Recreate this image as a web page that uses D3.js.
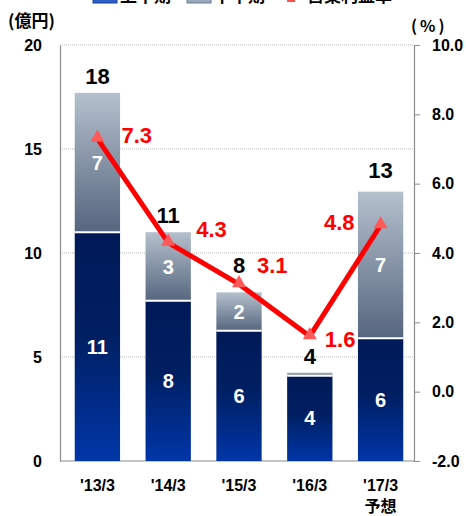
<!DOCTYPE html>
<html>
<head>
<meta charset="utf-8">
<script src="https://cdn.jsdelivr.net/npm/d3@7"></script>
<style>
  body { margin: 0; background: #fff; }
  svg { display: block; font-family: "Liberation Sans", Arial, sans-serif; }
  .jp { font-family: "Noto Sans CJK JP", sans-serif; }
</style>
</head>
<body>
<div id="chart"></div>
<script>
// fiscal years and values (億円, %)
var years = ["'13/3", "'14/3", "'15/3", "'16/3", "'17/3"];
var firstHalf = [11.0, 7.7, 6.26, 4.1, 5.9];
var secondHalf = [6.7, 3.3, 1.85, 0.15, 7.05];
var margin = [7.3, 4.3, 3.1, 1.6, 4.8];
var leftTicks = [0, 5, 10, 15, 20];
var rightTicks = [-2, 0, 2, 4, 6, 8, 10];
var legendNames = ["上半期", "下半期", "営業利益率"];

var width = 466, height = 516;
var plot = {left: 60, right: 414, top: 45, bottom: 461};

// hand-placed label nudges (dx, dy) for the margin line and the totals
var marginLabelPos = [[24, 4, "start"], [28, -6, "start"], [18, -11, "start"], [15, 11, "start"], [-26, 5, "end"]];
var totalLift = [9, 9, 19, 9, 14];

var svg = d3.select("#chart").append("svg")
    .attr("width", width)
    .attr("height", height);

var defs = svg.append("defs");
var gLow = defs.append("linearGradient").attr("id", "gradLow")
    .attr("x1", 0).attr("y1", 0).attr("x2", 0).attr("y2", 1);
gLow.append("stop").attr("offset", "0%").attr("stop-color", "#001a58");
gLow.append("stop").attr("offset", "45%").attr("stop-color", "#001f62");
gLow.append("stop").attr("offset", "100%").attr("stop-color", "#0036a8");
var gHigh = defs.append("linearGradient").attr("id", "gradHigh")
    .attr("x1", 0).attr("y1", 0).attr("x2", 0).attr("y2", 1);
gHigh.append("stop").attr("offset", "0%").attr("stop-color", "#b5c0cd");
gHigh.append("stop").attr("offset", "100%").attr("stop-color", "#56667f");

var x = d3.scaleBand()
    .domain(years)
    .range([plot.left + 2, plot.right + 2])
    .paddingInner(0.36)
    .paddingOuter(0.18);

var yL = d3.scaleLinear().domain([0, 20]).range([plot.bottom, plot.top]);
var yR = d3.scaleLinear().domain([-2, 10]).range([plot.bottom, plot.top]);

// dotted gridlines on the left scale
svg.append("g")
    .selectAll("line")
    .data(leftTicks.filter(d => d > 0))
    .enter()
    .append("line")
    .attr("x1", plot.left)
    .attr("x2", plot.right)
    .attr("y1", d => yL(d))
    .attr("y2", d => yL(d))
    .attr("stroke", "#b8b8b8")
    .attr("stroke-width", 1)
    .attr("stroke-dasharray", "1,1");

// axes
var leftAxis = svg.append("g")
    .attr("transform", "translate(" + plot.left + ",0)")
    .call(d3.axisLeft(yL).tickValues(leftTicks).tickSize(0).tickPadding(18));
var rightAxis = svg.append("g")
    .attr("transform", "translate(" + plot.right + ",0)")
    .call(d3.axisRight(yR).tickValues(rightTicks).tickSize(6).tickPadding(12)
          .tickFormat(d => d.toFixed(1)));
[leftAxis, rightAxis].forEach(a => {
    a.select(".domain").attr("stroke", "#8c8c8c").attr("stroke-width", 1.2);
    a.selectAll(".tick line").attr("stroke", "#8c8c8c");
    a.selectAll("text")
        .attr("fill", "#000")
        .style("font-size", "16px")
        .style("font-weight", "bold");
});

svg.append("line")
    .attr("x1", plot.left).attr("x2", plot.right)
    .attr("y1", plot.bottom).attr("y2", plot.bottom)
    .attr("stroke", "#8c8c8c").attr("stroke-width", 1.2);

// stacked bars
var bars = svg.append("g");
years.forEach((yr, i) => {
    var bx = x(yr), bw = x.bandwidth();
    var lowTop = yL(firstHalf[i]);
    var highTop = yL(firstHalf[i] + secondHalf[i]);
    bars.append("rect")
        .attr("x", bx).attr("y", lowTop)
        .attr("width", bw).attr("height", plot.bottom - lowTop)
        .attr("fill", "url(#gradLow)");
    bars.append("rect")
        .attr("x", bx).attr("y", highTop)
        .attr("width", bw).attr("height", lowTop - highTop)
        .attr("fill", "url(#gradHigh)");
    bars.append("line")
        .attr("x1", bx).attr("x2", bx + bw)
        .attr("y1", lowTop).attr("y2", lowTop)
        .attr("stroke", "#fff").attr("stroke-width", 2);
});

var fmt0 = d3.format(".0f");

// segment labels
function segmentLabels(rows) {
    svg.append("g")
        .selectAll("text")
        .data(rows)
        .enter()
        .append("text")
        .attr("x", d => x(d.yr) + x.bandwidth() / 2)
        .attr("y", d => yL((d.y0 + d.y1) / 2) + 7)
        .attr("text-anchor", "middle")
        .attr("fill", "#fff")
        .style("font-size", "20px")
        .style("font-weight", "bold")
        .text(d => fmt0(d.v));
}
segmentLabels(years.map((yr, i) => ({yr: yr, v: firstHalf[i], y0: 0, y1: firstHalf[i]})));
segmentLabels(years.map((yr, i) => ({yr: yr, v: secondHalf[i], y0: firstHalf[i], y1: firstHalf[i] + secondHalf[i]}))
                  .filter(d => d.v >= 1));

// totals above the bars
svg.append("g")
    .selectAll("text")
    .data(years)
    .enter()
    .append("text")
    .attr("x", d => x(d) + x.bandwidth() / 2)
    .attr("y", (d, i) => yL(firstHalf[i] + secondHalf[i]) - totalLift[i])
    .attr("text-anchor", "middle")
    .attr("fill", "#000")
    .style("font-size", "22px")
    .style("font-weight", "bold")
    .text((d, i) => fmt0(firstHalf[i] + secondHalf[i]));

// operating margin line
var cx = d => x(d) + x.bandwidth() / 2;
var line = d3.line()
    .x((d, i) => cx(years[i]))
    .y(d => yR(d));

svg.append("path")
    .datum(margin)
    .attr("d", line)
    .attr("fill", "none")
    .attr("stroke", "#ff0000")
    .attr("stroke-width", 5)
    .attr("stroke-linejoin", "round");

svg.append("g")
    .selectAll("path")
    .data(margin)
    .enter()
    .append("path")
    .attr("d", d3.symbol().type(d3.symbolTriangle).size(85))
    .attr("transform", (d, i) => "translate(" + cx(years[i]) + "," + (yR(d) - 1) + ")")
    .attr("fill", "#ff5a5a");

svg.append("g")
    .selectAll("text")
    .data(margin)
    .enter()
    .append("text")
    .attr("x", (d, i) => cx(years[i]) + marginLabelPos[i][0])
    .attr("y", (d, i) => yR(d) + marginLabelPos[i][1])
    .attr("text-anchor", (d, i) => marginLabelPos[i][2])
    .attr("fill", "#ff0000")
    .style("font-size", "22px")
    .style("font-weight", "bold")
    .text(d => d.toFixed(1));

// category labels
svg.append("g")
    .selectAll("text")
    .data(years)
    .enter()
    .append("text")
    .attr("x", d => cx(d))
    .attr("y", 491)
    .attr("text-anchor", "middle")
    .style("font-size", "16px")
    .style("font-weight", "bold")
    .text(d => d);

svg.append("text")
    .attr("class", "jp")
    .attr("x", cx(years[4]))
    .attr("y", 512)
    .attr("text-anchor", "middle")
    .style("font-size", "16px")
    .style("font-weight", "bold")
    .text("予想");

// unit captions
svg.append("text")
    .attr("class", "jp")
    .attr("x", 8)
    .attr("y", 27)
    .style("font-size", "17px")
    .style("font-weight", "bold")
    .text("(億円)");

svg.append("text")
    .attr("class", "jp")
    .attr("x", 411)
    .attr("y", 32)
    .style("font-size", "16px")
    .style("font-weight", "bold")
    .style("letter-spacing", "3px")
    .text("(%)");

// legend (runs off the top edge)
var legend = svg.append("g");
var legendX = [93, 187, 287];
legend.append("rect").attr("x", legendX[0]).attr("y", -10).attr("width", 24).attr("height", 13)
    .attr("fill", "#2d5fc4").attr("stroke", "#1a3f9a");
legend.append("rect").attr("x", legendX[1]).attr("y", -10).attr("width", 24).attr("height", 13)
    .attr("fill", "#9aa8bb").attr("stroke", "#6e7d93");
legend.append("rect").attr("x", legendX[2]).attr("y", -6).attr("width", 8).attr("height", 8)
    .attr("fill", "#ff5050");
legend.selectAll("text")
    .data(legendNames)
    .enter()
    .append("text")
    .attr("class", "jp")
    .attr("x", (d, i) => legendX[i] + (i < 2 ? 27 : 20))
    .attr("y", 2)
    .style("font-size", "17px")
    .style("font-weight", "bold")
    .text(d => d);
</script>
</body>
</html>
